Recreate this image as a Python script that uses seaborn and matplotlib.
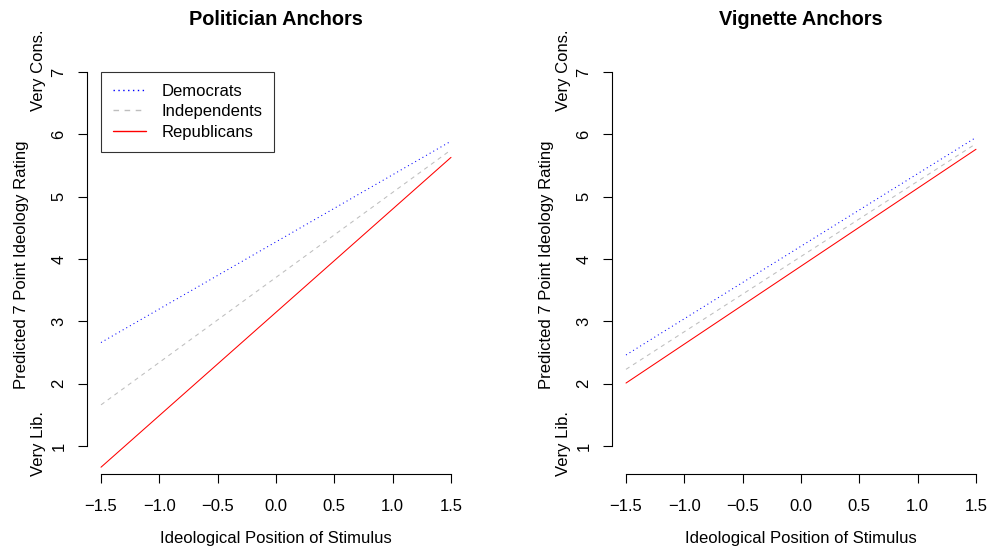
import pandas as pd
import matplotlib
matplotlib.use("Agg")
import matplotlib.pyplot as plt
from matplotlib.lines import Line2D
import seaborn as sns

# Datos (extremos de cada recta)
estimulo = [-1.5, 1.5]
partidos = ["Democrats", "Independents", "Republicans"]

politicos_dem = [2.66, 5.89]
politicos_ind = [1.66, 5.75]
politicos_rep = [0.66, 5.63]

vinetas_dem = [2.46, 5.95]
vinetas_ind = [2.23, 5.85]
vinetas_rep = [2.01, 5.76]

ticks_x = [-1.5, -1.0, -0.5, 0.0, 0.5, 1.0, 1.5]
etiquetas_x = ["\u22121.5", "\u22121.0", "\u22120.5", "0.0", "0.5", "1.0", "1.5"]
ticks_y = [1, 2, 3, 4, 5, 6, 7]
etiquetas_y = ["1", "2", "3", "4", "5", "6", "7"]

colores = {"Democrats": "#0000FF", "Independents": "#BEBEBE", "Republicans": "#FF0000"}
estilos = {"Democrats": (1, 3), "Independents": (4, 4), "Republicans": ""}
estilos_mpl = {"Democrats": (0, (1, 2.5)), "Independents": (0, (4, 4)), "Republicans": "-"}


def tabla(dem, ind, rep):
    filas = []
    for partido, valores in zip(partidos, [dem, ind, rep]):
        for x, y in zip(estimulo, valores):
            filas.append({"x": x, "y": y, "partido": partido})
    return pd.DataFrame(filas)


sns.set_style("ticks")
plt.rcParams['font.family'] = ['Liberation Sans', 'DejaVu Sans']
plt.rcParams['text.color'] = 'black'
plt.rcParams['axes.labelcolor'] = 'black'

fig = plt.figure(figsize=(9.94, 5.48), dpi=100)

paneles = [
    ("Politician Anchors", tabla(politicos_dem, politicos_ind, politicos_rep), 87, True),
    ("Vignette Anchors", tabla(vinetas_dem, vinetas_ind, vinetas_rep), 612, False),
]

for titulo, df, izquierda, con_leyenda in paneles:
    ax = fig.add_axes([izquierda / 994, 1 - 474 / 548, 378 / 994, 417.6 / 548])

    sns.lineplot(data=df, x="x", y="y", hue="partido", style="partido",
                 hue_order=partidos, style_order=partidos,
                 palette=colores, dashes=estilos, linewidth=0.75,
                 legend=False, errorbar=None, ax=ax)

    ax.set_xlim(-1.62, 1.62)
    ax.set_ylim(0.551, 7.25)

    # ejes al estilo R: sin caja, lineas solo entre el primer y ultimo tick
    for lado in ["top", "right"]:
        ax.spines[lado].set_visible(False)
    ax.spines["left"].set_bounds(1, 7)
    ax.spines["bottom"].set_bounds(-1.5, 1.5)
    for lado in ["left", "bottom"]:
        ax.spines[lado].set_color("black")
        ax.spines[lado].set_linewidth(0.8)

    ax.set_xticks(ticks_x, etiquetas_x)
    ax.set_yticks(ticks_y, etiquetas_y, rotation=90, va="center")
    ax.tick_params(axis="both", length=6.5, width=0.8, color="black",
                   labelcolor="black", labelsize=12)
    ax.tick_params(axis="x", pad=11.2)
    ax.tick_params(axis="y", pad=8.2)

    ax.annotate("Very Cons.", xy=(0, 7), xycoords=ax.get_yaxis_transform(),
                xytext=(-35, 1.5), textcoords="offset points",
                rotation=90, ha="center", va="center", fontsize=12)
    ax.annotate("Very Lib.", xy=(0, 1), xycoords=ax.get_yaxis_transform(),
                xytext=(-35, 1.5), textcoords="offset points",
                rotation=90, ha="center", va="center", fontsize=12)

    ax.set_title(titulo, fontsize=14.3, fontweight="bold", pad=22.5, color="black")
    ax.set_xlabel("Ideological Position of Stimulus", fontsize=12, labelpad=12.6)
    ax.set_ylabel("Predicted 7 Point Ideology Rating", fontsize=12, labelpad=16)

    if con_leyenda:
        manijas = [Line2D([0, 1], [0, 0], color=colores[p], linewidth=1.0,
                          linestyle=estilos_mpl[p])
                   for p in partidos]
        ley = ax.legend(handles=manijas, labels=partidos, loc="upper left",
                        bbox_to_anchor=(-1.5, 7), bbox_transform=ax.transData,
                        borderaxespad=0, fontsize=12, frameon=True, fancybox=False,
                        handlelength=2.0, handletextpad=0.9, labelspacing=0.32,
                        borderpad=0.72)
        for linea, p in zip(ley.get_lines(), partidos):
            linea.set_color(colores[p])
        ley.get_frame().set_edgecolor("black")
        ley.get_frame().set_linewidth(0.8)

fig.savefig("out.png", dpi=100)
